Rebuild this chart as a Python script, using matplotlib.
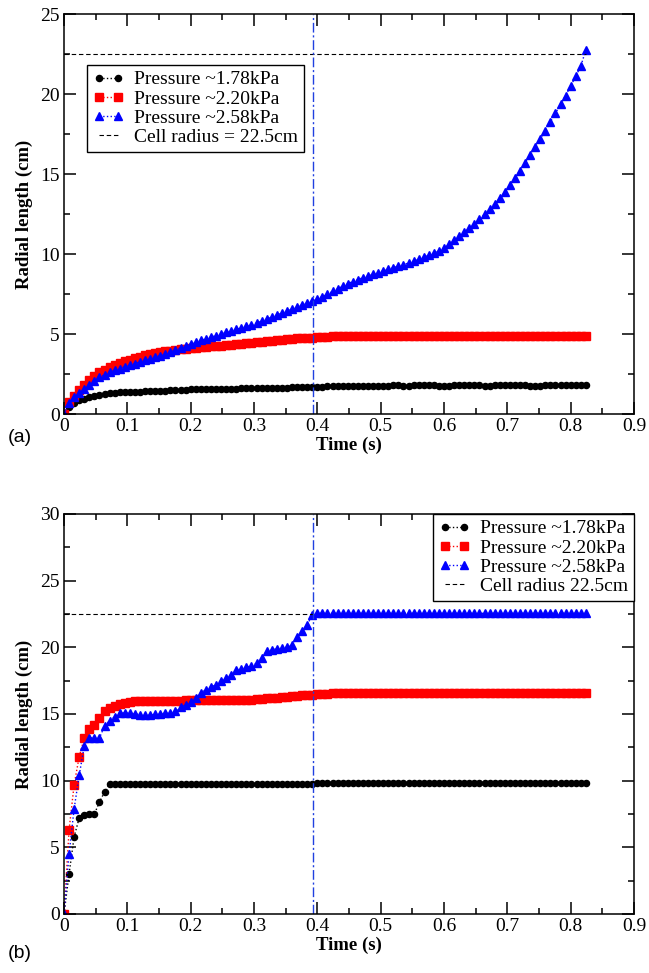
import numpy as np
import matplotlib
matplotlib.use("Agg")
import matplotlib.pyplot as plt
from matplotlib.ticker import MultipleLocator, FormatStrFormatter

# time samples (s), one frame every 8 ms
dt = 0.008
n_pts = 104

labels = ["Pressure ~1.78kPa", "Pressure ~2.20kPa", "Pressure ~2.58kPa"]
cell_radius = 22.5
t_mark = 0.393

# panel (a)
black_a = [
    0.00, 0.45, 0.70, 0.85, 0.95, 1.05, 1.12, 1.20,
    1.25, 1.30, 1.33, 1.35, 1.37, 1.38, 1.40, 1.40,
    1.41, 1.42, 1.43, 1.44, 1.45, 1.47, 1.49, 1.51,
    1.53, 1.55, 1.56, 1.56, 1.57, 1.57, 1.58, 1.58,
    1.58, 1.59, 1.59, 1.60, 1.60, 1.60, 1.61, 1.61,
    1.62, 1.62, 1.63, 1.64, 1.65, 1.66, 1.67, 1.68,
    1.69, 1.70, 1.70, 1.71, 1.72, 1.73, 1.74, 1.75,
    1.76, 1.77, 1.77, 1.78, 1.78, 1.78, 1.78, 1.78,
    1.78, 1.79, 1.79, 1.78, 1.78, 1.79, 1.79, 1.79,
    1.79, 1.79, 1.78, 1.78, 1.78, 1.79, 1.79, 1.79,
    1.79, 1.79, 1.79, 1.78, 1.78, 1.79, 1.79, 1.79,
    1.79, 1.79, 1.79, 1.79, 1.78, 1.78, 1.78, 1.79,
    1.79, 1.79, 1.79, 1.79, 1.79, 1.79, 1.79, 1.79,
]
red_a = [
    0.00, 0.75, 1.15, 1.50, 1.80, 2.10, 2.35, 2.60,
    2.78, 2.92, 3.05, 3.18, 3.30, 3.40, 3.50, 3.58,
    3.66, 3.74, 3.80, 3.86, 3.92, 3.96, 4.00, 4.04,
    4.07, 4.10, 4.13, 4.16, 4.19, 4.22, 4.25, 4.28,
    4.31, 4.34, 4.37, 4.40, 4.43, 4.46, 4.49, 4.52,
    4.55, 4.58, 4.61, 4.64, 4.67, 4.70, 4.72, 4.74,
    4.76, 4.78, 4.80, 4.82, 4.84, 4.86, 4.88, 4.89,
    4.90, 4.90, 4.90, 4.90, 4.90, 4.90, 4.90, 4.90,
    4.90, 4.90, 4.90, 4.90, 4.90, 4.90, 4.90, 4.90,
    4.90, 4.90, 4.90, 4.90, 4.90, 4.90, 4.90, 4.90,
    4.90, 4.90, 4.90, 4.90, 4.90, 4.90, 4.90, 4.90,
    4.90, 4.90, 4.90, 4.90, 4.90, 4.90, 4.90, 4.90,
    4.90, 4.90, 4.90, 4.90, 4.90, 4.90, 4.90, 4.90,
]
blue_a = [
    0.00, 0.70, 1.05, 1.30, 1.55, 1.80, 2.05, 2.30,
    2.45, 2.60, 2.72, 2.84, 2.95, 3.05, 3.15, 3.25,
    3.35, 3.45, 3.55, 3.65, 3.75, 3.88, 4.00, 4.12,
    4.24, 4.36, 4.48, 4.60, 4.70, 4.80, 4.90, 5.00,
    5.10, 5.20, 5.29, 5.38, 5.47, 5.56, 5.68, 5.80,
    5.92, 6.05, 6.18, 6.31, 6.44, 6.57, 6.70, 6.82,
    6.94, 7.06, 7.18, 7.34, 7.50, 7.66, 7.82, 7.98,
    8.14, 8.28, 8.40, 8.52, 8.63, 8.74, 8.84, 8.94,
    9.04, 9.14, 9.24, 9.34, 9.44, 9.54, 9.66, 9.80,
    9.92, 10.05, 10.20, 10.35, 10.60, 10.85, 11.10, 11.35,
    11.62, 11.90, 12.18, 12.50, 12.82, 13.15, 13.50, 13.85,
    14.30, 14.75, 15.20, 15.70, 16.20, 16.70, 17.20, 17.70,
    18.25, 18.80, 19.35, 19.90, 20.50, 21.10, 21.75, 22.75,
]

# panel (b)
black_b = [
    0.00, 3.00, 5.80, 7.20, 7.40, 7.50, 7.50, 8.40,
    9.15, 9.72, 9.72, 9.72, 9.72, 9.72, 9.72, 9.72,
    9.72, 9.72, 9.72, 9.72, 9.72, 9.73, 9.73, 9.73,
    9.73, 9.73, 9.73, 9.74, 9.74, 9.74, 9.74, 9.74,
    9.74, 9.75, 9.75, 9.75, 9.75, 9.75, 9.76, 9.76,
    9.76, 9.76, 9.77, 9.77, 9.77, 9.77, 9.78, 9.78,
    9.78, 9.78, 9.79, 9.79, 9.79, 9.79, 9.80, 9.80,
    9.80, 9.80, 9.80, 9.80, 9.80, 9.80, 9.80, 9.80,
    9.80, 9.80, 9.80, 9.80, 9.80, 9.80, 9.80, 9.80,
    9.80, 9.80, 9.80, 9.80, 9.80, 9.80, 9.80, 9.80,
    9.80, 9.80, 9.80, 9.80, 9.80, 9.80, 9.80, 9.80,
    9.80, 9.80, 9.80, 9.80, 9.80, 9.80, 9.80, 9.80,
    9.80, 9.80, 9.80, 9.80, 9.80, 9.80, 9.80, 9.80,
]
red_b = [
    0.00, 6.30, 9.70, 11.80, 13.20, 13.90, 14.20, 14.70,
    15.20, 15.45, 15.60, 15.72, 15.82, 15.90, 15.96, 16.00,
    16.00, 16.00, 16.00, 16.00, 16.00, 16.01, 16.01, 16.01,
    16.02, 16.02, 16.02, 16.02, 16.03, 16.03, 16.03, 16.03,
    16.04, 16.04, 16.05, 16.05, 16.06, 16.08, 16.10, 16.13,
    16.17, 16.20, 16.23, 16.27, 16.30, 16.33, 16.37, 16.40,
    16.42, 16.45, 16.47, 16.50, 16.52, 16.55, 16.57, 16.58,
    16.60, 16.60, 16.60, 16.60, 16.60, 16.60, 16.60, 16.60,
    16.60, 16.60, 16.60, 16.60, 16.60, 16.60, 16.60, 16.60,
    16.60, 16.60, 16.60, 16.60, 16.60, 16.60, 16.60, 16.60,
    16.60, 16.60, 16.60, 16.60, 16.60, 16.60, 16.60, 16.60,
    16.60, 16.60, 16.60, 16.60, 16.60, 16.60, 16.60, 16.60,
    16.60, 16.60, 16.60, 16.60, 16.60, 16.60, 16.60, 16.60,
]
blue_b = [
    0.00, 4.50, 7.90, 10.40, 12.60, 13.20, 13.20, 13.20,
    14.10, 14.50, 14.80, 15.05, 15.10, 15.10, 15.00, 14.95,
    14.90, 14.90, 15.00, 15.00, 15.05, 15.10, 15.20, 15.50,
    15.70, 15.90, 16.20, 16.60, 16.80, 17.00, 17.20, 17.50,
    17.70, 17.90, 18.30, 18.40, 18.50, 18.60, 18.80, 19.20,
    19.70, 19.80, 19.90, 19.95, 20.00, 20.15, 20.80, 21.20,
    21.70, 22.40, 22.55, 22.55, 22.55, 22.55, 22.55, 22.55,
    22.55, 22.55, 22.55, 22.55, 22.55, 22.55, 22.55, 22.55,
    22.55, 22.55, 22.55, 22.55, 22.55, 22.55, 22.55, 22.55,
    22.55, 22.55, 22.55, 22.55, 22.55, 22.55, 22.55, 22.55,
    22.55, 22.55, 22.55, 22.55, 22.55, 22.55, 22.55, 22.55,
    22.55, 22.55, 22.55, 22.55, 22.55, 22.55, 22.55, 22.55,
    22.55, 22.55, 22.55, 22.55, 22.55, 22.55, 22.55, 22.55,
]

t = np.arange(n_pts) * dt

serif = ["Liberation Serif", "DejaVu Serif"]
plt.rcParams["font.family"] = serif

W, H = 649, 973
fig = plt.figure(figsize=(W / 100, H / 100), dpi=100)

styles = [
    dict(color="black", marker="o", ms=4.4),
    dict(color="#ff0000", marker="s", ms=5.4),
    dict(color="#0000ff", marker="^", ms=6.3),
]


def setup_axes(ax, ymax):
    ax.set_xlim(0, 0.9)
    ax.set_ylim(0, ymax)
    ax.xaxis.set_major_locator(MultipleLocator(0.1))
    ax.xaxis.set_minor_locator(MultipleLocator(0.05))
    ax.yaxis.set_major_locator(MultipleLocator(5))
    ax.yaxis.set_minor_locator(MultipleLocator(2.5))
    ax.xaxis.set_major_formatter(FormatStrFormatter("%g"))
    ax.tick_params(which="both", direction="in", top=True, right=True,
                   width=1.1, labelsize=14)
    ax.tick_params(which="major", length=8.5, pad=3)
    ax.tick_params(which="minor", length=4.3)
    for s in ax.spines.values():
        s.set_linewidth(1.1)
    ax.set_xlabel("Time (s)", fontsize=13.5, fontweight="bold", labelpad=1)
    ax.set_ylabel("Radial length (cm)", fontsize=13.5, fontweight="bold", labelpad=5)


def draw_series(ax, series):
    for ys, st, lab in zip(series, styles, labels):
        ax.plot(t, ys, linestyle=":", lw=1.0, color=st["color"], marker=st["marker"],
                ms=st["ms"], mec=st["color"], mfc=st["color"], label=lab)


leg_kw = dict(borderaxespad=0, fontsize=14, numpoints=2, handlelength=1.6,
              handletextpad=0.5, labelspacing=0.08, borderpad=0.3,
              fancybox=False, framealpha=1, edgecolor="black")

# ---- panel (a)
ax1 = fig.add_axes([64 / W, 1 - 414 / H, 570 / W, 400 / H])
setup_axes(ax1, 25)
draw_series(ax1, [black_a, red_a, blue_a])
ax1.plot([0, t[-1]], [cell_radius, cell_radius], color="black", lw=0.8,
         dashes=(4, 2.5), label="Cell radius = 22.5cm")
ax1.axvline(t_mark, color="#2040e0", lw=1.0, dashes=(7, 2, 1.5, 2))
leg1 = ax1.legend(loc="upper left", bbox_to_anchor=(23 / 570, 1 - 51 / 400), **leg_kw)
leg1.get_frame().set_linewidth(1.0)

# ---- panel (b)
ax2 = fig.add_axes([64 / W, 1 - 914 / H, 570 / W, 400 / H])
setup_axes(ax2, 30)
draw_series(ax2, [black_b, red_b, blue_b])
ax2.plot([0, t_mark], [cell_radius, cell_radius], color="black", lw=0.8,
         dashes=(4, 2.5), label="Cell radius 22.5cm")
ax2.axvline(t_mark, color="#2040e0", lw=1.0, dashes=(7, 2, 1.5, 2))
leg2 = ax2.legend(loc="upper right", bbox_to_anchor=(1, 1), **leg_kw)
leg2.get_frame().set_linewidth(1.0)

fig.text(8 / W, 1 - 437 / H, "(a)", fontsize=14, family="Liberation Sans", va="center")
fig.text(8 / W, 1 - 953 / H, "(b)", fontsize=14, family="Liberation Sans", va="center")

fig.savefig("out.png", dpi=100)
